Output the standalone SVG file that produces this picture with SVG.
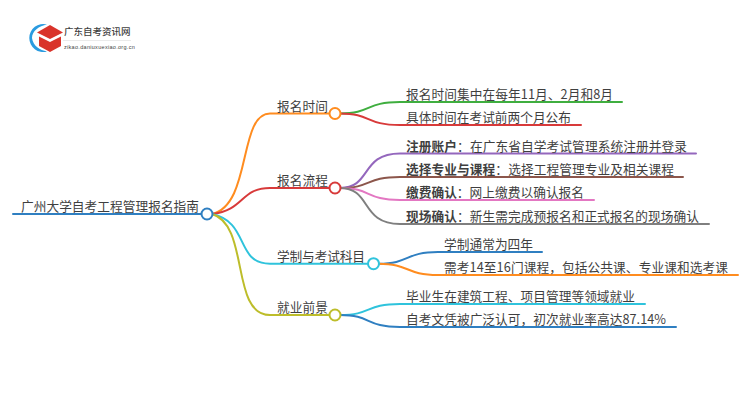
<svg xmlns="http://www.w3.org/2000/svg" width="750" height="410" viewBox="0 0 750 410">
<style>
text{font-family:"Noto Sans CJK SC","Liberation Sans",sans-serif;fill:#3f3f3f;font-size:12.700px}
.b{font-weight:700}
path.l{fill:none;stroke-width:2;stroke-linecap:round}
circle{fill:#fff;stroke-width:2}
</style>
<rect width="750" height="410" fill="#fff"/>
<g id="logo">
<path d="M47 24.500A14 14 0 1 0 47 51.500C40 50 33 46 32 38C32 31 39 26 47 24.500Z" fill="#2a9be0"/>
<path d="M37 32.500L50 25L63 32.500L50 39Z" fill="#d9342b"/>
<path d="M39 36.500L50 42L61 36.500V46L50 52L39 46Z" fill="#d9342b"/>
<text x="64" y="35" style="font-size:9.500px;font-weight:500">广东自考资讯网</text>
<rect x="63" y="40" width="68" height="0.600" fill="#ddd"/>
<text x="64" y="48.500" style="font-size:5.500px;font-family:'Liberation Sans',sans-serif;letter-spacing:.3px">zikao.daniuxuexiao.org.cn</text>
</g>
<g id="connectors">
<path class="l" d="M13 214H202" stroke="#2f7fc1"/>
<path class="l" d="M212 214C252 205 238 113.500 270 113.500H330" stroke="#ff8c1f"/>
<path class="l" d="M212 214C245 210 240 188 270 188H330" stroke="#d83a3a"/>
<path class="l" d="M212 214C250 222 235 263.700 270 263.700H368" stroke="#2fc3dc"/>
<path class="l" d="M212 214C250 225 230 315 270 315H330" stroke="#bdbd2a"/>
<path class="l" d="M340 113.500C372 113.500 365 102 400 102H622" stroke="#3fae3f"/>
<path class="l" d="M340 113.500C372 113.500 365 125 400 125H581" stroke="#d83a3a"/>
<path class="l" d="M340 188C372 188 360 153.500 400 153.500H696" stroke="#9467bd"/>
<path class="l" d="M340 188C372 188 365 177 400 177H683" stroke="#8c564b"/>
<path class="l" d="M340 188C372 188 365 200 400 200H594" stroke="#e377c2"/>
<path class="l" d="M340 188C372 188 360 224 400 224H709" stroke="#7f7f7f"/>
<path class="l" d="M378.500 263.700C410 263.700 405 252 438 252H542" stroke="#2f7fc1"/>
<path class="l" d="M378.500 263.700C410 263.700 405 275 438 275H738" stroke="#ff8c1f"/>
<path class="l" d="M340 315C372 315 365 304 400 304H645" stroke="#2fc3dc"/>
<path class="l" d="M340 315C372 315 365 327 400 327H676" stroke="#2f7fc1"/>
</g>
<g id="root"><text x="21" y="211" textLength="178">广州大学自考工程管理报名指南</text><circle cx="207" cy="214" r="5.500" stroke="#2f7fc1"/></g>
<g id="n1"><text x="277" y="110.500" textLength="51">报名时间</text><circle cx="335" cy="113.500" r="5.500" stroke="#ff8c1f"/></g>
<g id="n2"><text x="277" y="185" textLength="51">报名流程</text><circle cx="335" cy="188" r="5.500" stroke="#d83a3a"/></g>
<g id="n3"><text x="277" y="260.500" textLength="88">学制与考试科目</text><circle cx="373.500" cy="263.700" r="5.500" stroke="#2fc3dc"/></g>
<g id="n4"><text x="277" y="312" textLength="51">就业前景</text><circle cx="335" cy="315" r="5.500" stroke="#bdbd2a"/></g>
<g id="l1"><text x="406" y="99" textLength="207">报名时间集中在每年11月、2月和8月</text></g>
<g id="l2"><text x="406" y="122" textLength="165">具体时间在考试前两个月公布</text></g>
<g id="l3"><text x="406" y="150.500" textLength="281"><tspan class="b">注册账户</tspan>：在广东省自学考试管理系统注册并登录</text></g>
<g id="l4"><text x="406" y="174" textLength="268"><tspan class="b">选择专业与课程</tspan>：选择工程管理专业及相关课程</text></g>
<g id="l5"><text x="406" y="197" textLength="178"><tspan class="b">缴费确认</tspan>：网上缴费以确认报名</text></g>
<g id="l6"><text x="406" y="221" textLength="293"><tspan class="b">现场确认</tspan>：新生需完成预报名和正式报名的现场确认</text></g>
<g id="l7"><text x="444" y="249" textLength="89">学制通常为四年</text></g>
<g id="l8"><text x="444" y="272" textLength="284">需考14至16门课程，包括公共课、专业课和选考课</text></g>
<g id="l9"><text x="406" y="301" textLength="229">毕业生在建筑工程、项目管理等领域就业</text></g>
<g id="l10"><text x="406" y="324" textLength="260">自考文凭被广泛认可，初次就业率高达87.14%</text></g>
</svg>
